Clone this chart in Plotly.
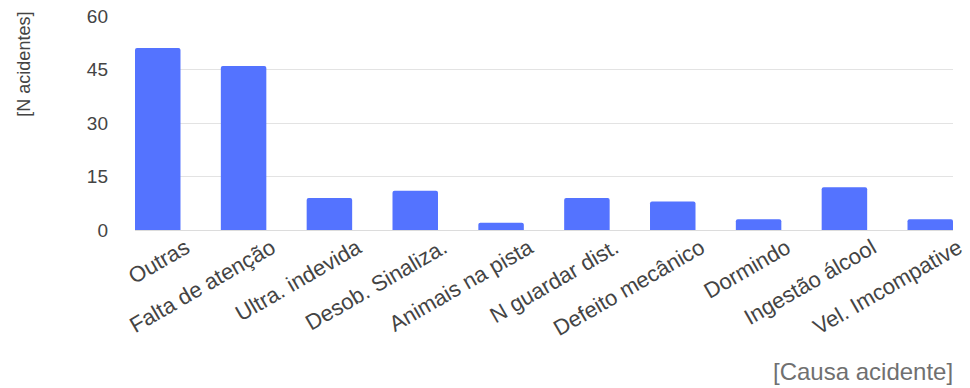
import plotly.graph_objects as go

# Accident causes and their counts
causas = [
    "Outras", "Falta de atenção", "Ultra. indevida", "Desob. Sinaliza.",
    "Animais na pista", "N guardar dist.", "Defeito mecânico", "Dormindo",
    "Ingestão álcool", "Vel. Imcompative",
]
acidentes = [51, 46, 9, 11, 2, 9, 8, 3, 12, 3]
y_ticks = [0, 15, 30, 45, 60]

FONT = "'Liberation Sans', Arial, sans-serif"
TEXT_GRAY = "#444444"

fig = go.Figure(
    go.Bar(
        x=list(range(len(causas))),
        y=acidentes,
        marker=dict(color="#5473FF", line=dict(width=0)),
        width=0.53,
    )
)

fig.update_layout(
    width=970,
    height=388,
    margin=dict(l=135, r=17, t=16, b=158, autoexpand=False),
    paper_bgcolor="white",
    plot_bgcolor="white",
    showlegend=False,
    barcornerradius=2,
    font=dict(family=FONT, color=TEXT_GRAY),
)

fig.update_xaxes(
    tickmode="array",
    tickvals=list(range(len(causas))),
    ticktext=causas,
    tickangle=-30,
    tickfont=dict(size=22, color=TEXT_GRAY),
    range=[-0.265, len(causas) - 1 + 0.265],
    showgrid=False,
    showline=False,
    zeroline=False,
    ticks="",
    ticklabelshift=28,
    ticklabelstandoff=0,
    automargin=False,
)

fig.update_yaxes(
    range=[0, 60],
    tickmode="array",
    tickvals=y_ticks,
    tickfont=dict(size=19, color=TEXT_GRAY),
    showgrid=True,
    gridcolor="#e3e3e3",
    gridwidth=1,
    zeroline=True,
    zerolinecolor="#dcdcdc",
    zerolinewidth=1,
    showline=False,
    ticks="",
    ticklabelstandoff=26,
    automargin=False,
)

# Axis titles placed as annotations
fig.add_annotation(
    text="[N acidentes]",
    xref="paper", yref="paper",
    x=-0.135, y=1.03,
    xanchor="center", yanchor="top",
    textangle=-90,
    showarrow=False,
    font=dict(family=FONT, size=18, color=TEXT_GRAY),
)
fig.add_annotation(
    text="[Causa acidente]",
    xref="paper", yref="paper",
    x=1.002, y=-0.66,
    xanchor="right", yanchor="middle",
    showarrow=False,
    font=dict(family=FONT, size=24, color="#707070"),
)

fig.write_html("out.html")
